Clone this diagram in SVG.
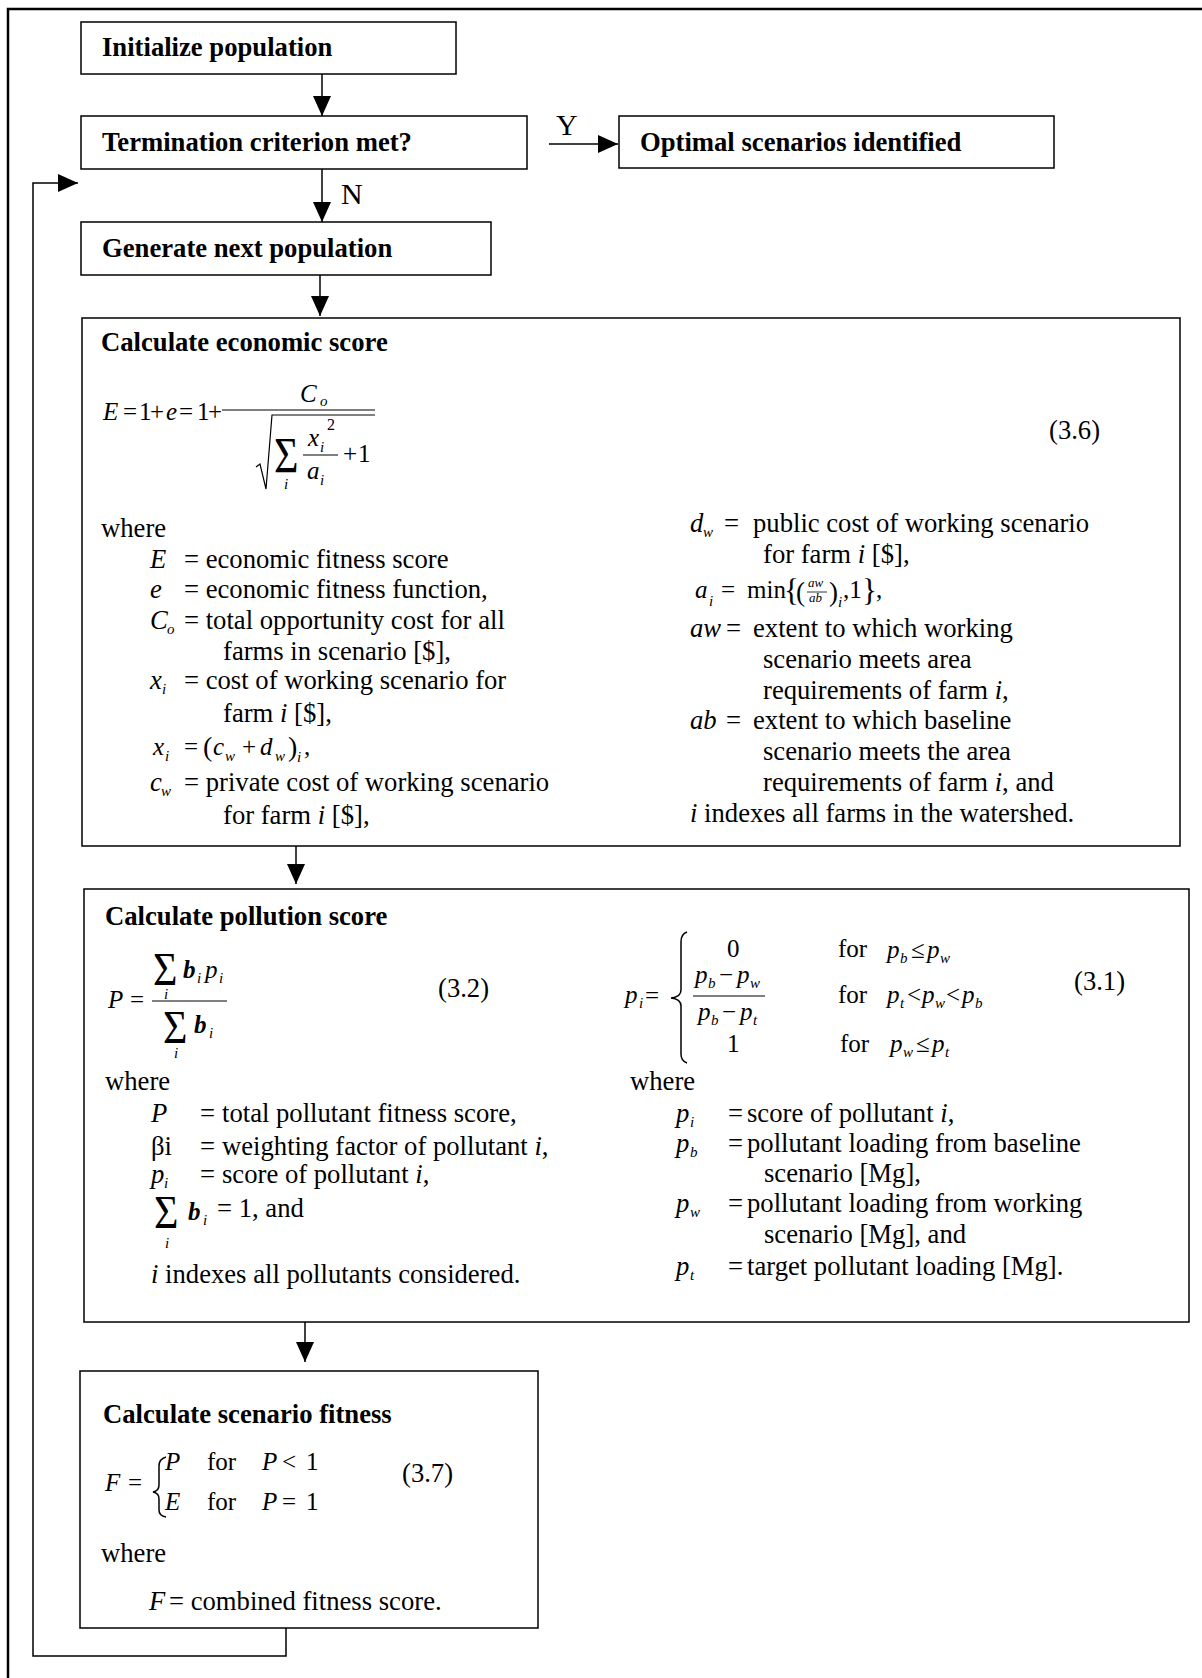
<svg xmlns="http://www.w3.org/2000/svg" width="1202" height="1678" viewBox="0 0 1202 1678">
<defs>
<marker id="ah" viewBox="0 0 20 18" refX="20" refY="9" markerWidth="20" markerHeight="18" markerUnits="userSpaceOnUse" orient="auto"><path d="M0,0 L20,9 L0,18 z" fill="#000"/></marker>
</defs>
<style>
text{font-family:"Liberation Serif","Times New Roman",serif;fill:#000}
.t{font-size:26.67px}
.h{font-size:26.67px;font-weight:bold}
.m{font-size:25px}
.i{font-style:italic}
.bi{font-style:italic;font-weight:bold}
.s{font-size:15px;font-style:italic}
.sig{font-size:42px}
.tiny{font-size:13px;font-style:italic}
.yn{font-size:30px}
.box{fill:#fff;stroke:#000;stroke-width:1.5}
.ln{fill:none;stroke:#000;stroke-width:1.5}
.arr{fill:none;stroke:#000;stroke-width:1.5;marker-end:url(#ah)}
.bar{stroke:#000;stroke-width:1.2}
.frame{fill:none;stroke:#000;stroke-width:2.5}
</style>
<rect x="0" y="0" width="1202" height="1678" fill="#fff"/>
<path class="frame" d="M8,1680 L8,9 L1204,9"/>

<g id="connectors">
<line class="arr" x1="322" y1="74" x2="322" y2="116"/>
<line class="arr" x1="549" y1="144" x2="618" y2="144"/>
<line class="arr" x1="322" y1="169" x2="322" y2="222"/>
<line class="arr" x1="320" y1="275" x2="320" y2="316"/>
<line class="arr" x1="296" y1="846" x2="296" y2="884"/>
<line class="arr" x1="305" y1="1322" x2="305" y2="1362"/>
<polyline class="arr" points="286,1628 286,1656 33,1656 33,183 78,183"/>
<text class="yn" x="556" y="135">Y</text>
<text class="yn" x="341" y="204">N</text>
</g>

<g id="initialize">
<rect class="box" x="81" y="22" width="375" height="52"/>
<text class="h" x="102" y="56">Initialize population</text>
</g>

<g id="termination">
<rect class="box" x="81" y="116" width="446" height="53"/>
<text class="h" x="102" y="151">Termination criterion met?</text>
</g>

<g id="optimal">
<rect class="box" x="619" y="116" width="435" height="52"/>
<text class="h" x="640" y="151">Optimal scenarios identified</text>
</g>

<g id="generate">
<rect class="box" x="81" y="222" width="410" height="53"/>
<text class="h" x="102" y="257">Generate next population</text>
</g>

<g id="economic">
<rect class="box" x="82" y="318" width="1098" height="528"/>
<text class="h" x="101" y="351">Calculate economic score</text>
<text class="m i" x="103" y="420">E</text>
<text class="m" x="123" y="420">=</text>
<text class="m" x="139" y="420">1</text>
<text class="m" x="150" y="420">+</text>
<text class="m i" x="166" y="420">e</text>
<text class="m" x="179" y="420">=</text>
<text class="m" x="197" y="420">1</text>
<text class="m" x="208" y="420">+</text>
<line class="bar" x1="222" y1="410" x2="375" y2="410"/>
<text class="m i" x="300" y="402">C</text>
<text class="s" x="320" y="406">o</text>
<polyline class="ln" style="stroke-width:1.2" points="256,467 260,464 266,489 272,415 375,415"/>
<text class="sig" transform="translate(274,472) scale(1,1.2)">Σ</text>
<text class="s" x="284" y="489">i</text>
<text class="m i" x="308" y="446">x</text>
<text class="s" x="320" y="452">i</text>
<text style="font-size:16px" x="327" y="430">2</text>
<line class="bar" x1="303" y1="455" x2="338" y2="455"/>
<text class="m i" x="307" y="479">a</text>
<text class="s" x="320" y="485">i</text>
<text class="m" x="343" y="462">+</text>
<text class="m" x="358" y="462">1</text>
<text class="t" x="1049" y="439">(3.6)</text>

<text class="t" x="101" y="537">where</text>
<text class="t i" x="150" y="568">E</text><text class="t" x="184" y="568">= economic fitness score</text>
<text class="t i" x="150" y="598">e</text><text class="t" x="184" y="598">= economic fitness function,</text>
<text class="t i" x="150" y="629">C</text><text class="s" x="167" y="634">o</text><text class="t" x="184" y="629">= total opportunity cost for all</text>
<text class="t" x="223" y="660">farms in scenario [$],</text>
<text class="t i" x="150" y="689">x</text><text class="s" x="162" y="694">i</text><text class="t" x="184" y="689">= cost of working scenario for</text>
<text class="t" x="223" y="722">farm <tspan class="i">i</tspan> [$],</text>
<text class="m i" x="153" y="755">x</text><text class="s" x="165" y="761">i</text>
<text class="m" x="184" y="755">=</text>
<text style="font-size:28px" x="203" y="756">(</text>
<text class="m i" x="213" y="755">c</text><text class="s" x="225" y="761">w</text>
<text class="m" x="242" y="755">+</text>
<text class="m i" x="260" y="755">d</text><text class="s" x="275" y="761">w</text>
<text style="font-size:28px" x="288" y="756">)</text><text class="s" x="297" y="762">i</text><text class="m" x="304" y="755">,</text>
<text class="t i" x="150" y="791">c</text><text class="s" x="161" y="796">w</text><text class="t" x="184" y="791">= private cost of working scenario</text>
<text class="t" x="223" y="824">for farm <tspan class="i">i</tspan> [$],</text>

<text class="t i" x="690" y="532">d</text><text class="s" x="703" y="537">w</text><text class="t" x="724" y="532">=</text><text class="t" x="753" y="532">public cost of working scenario</text>
<text class="t" x="763" y="563">for farm <tspan class="i">i</tspan> [$],</text>
<text class="m i" x="695" y="598">a</text><text class="s" x="709" y="606">i</text>
<text class="m" x="721" y="598">=</text>
<text class="m" x="747" y="598">min</text>
<text style="font-size:31px" x="784" y="601">{</text>
<text style="font-size:27px" x="796" y="601">(</text>
<text class="tiny" x="808" y="587">aw</text>
<line class="bar" style="stroke-width:0.8" x1="807" y1="592" x2="827" y2="592"/>
<text class="tiny" x="809" y="602">ab</text>
<text style="font-size:27px" x="829" y="601">)</text>
<text class="s" x="838" y="607">i</text>
<text class="m" x="843" y="598">,1</text>
<text style="font-size:31px" x="862" y="601">}</text>
<text class="m" x="876" y="598">,</text>
<text class="t i" x="690" y="637">aw</text><text class="t" x="726" y="637">=</text><text class="t" x="753" y="637">extent to which working</text>
<text class="t" x="763" y="668">scenario meets area</text>
<text class="t" x="763" y="699">requirements of farm <tspan class="i">i</tspan>,</text>
<text class="t i" x="690" y="729">ab</text><text class="t" x="726" y="729">=</text><text class="t" x="753" y="729">extent to which baseline</text>
<text class="t" x="763" y="760">scenario meets the area</text>
<text class="t" x="763" y="791">requirements of farm <tspan class="i">i</tspan>, and</text>
<text class="t" x="690" y="822"><tspan class="i">i</tspan> indexes all farms in the watershed.</text>
</g>

<g id="pollution">
<rect class="box" x="84" y="889" width="1105" height="433"/>
<text class="h" x="105" y="925">Calculate pollution score</text>
<text class="m i" x="108" y="1008">P</text>
<text class="m" x="130" y="1008">=</text>
<line class="bar" x1="152" y1="1001" x2="227" y2="1001"/>
<text class="sig" transform="translate(153,985) scale(1,1.1)">Σ</text>
<text class="s" x="164" y="999">i</text>
<text class="m bi" x="183" y="978">b</text><text class="s" x="197" y="983">i</text>
<text class="m i" x="205" y="978">p</text><text class="s" x="219" y="983">i</text>
<text class="sig" transform="translate(163,1043) scale(1,1.1)">Σ</text>
<text class="s" x="174" y="1058">i</text>
<text class="m bi" x="194" y="1033">b</text><text class="s" x="209" y="1038">i</text>
<text class="t" x="438" y="997">(3.2)</text>

<text class="t" x="105" y="1090">where</text>
<text class="t i" x="151" y="1122">P</text><text class="t" x="200" y="1122">=</text><text class="t" x="222" y="1122">total pollutant fitness score,</text>
<text class="t" x="151" y="1155">βi</text><text class="t" x="200" y="1155">=</text><text class="t" x="222" y="1155">weighting factor of pollutant <tspan class="i">i</tspan>,</text>
<text class="t i" x="151" y="1183">p</text><text class="s" x="164" y="1188">i</text><text class="t" x="200" y="1183">=</text><text class="t" x="222" y="1183">score of pollutant <tspan class="i">i</tspan>,</text>
<text class="sig" transform="translate(154,1228) scale(1,1.1)">Σ</text>
<text class="s" x="165" y="1248">i</text>
<text class="m bi" x="188" y="1220">b</text><text class="s" x="203" y="1225">i</text>
<text class="t" x="217" y="1217">= 1, and</text>
<text class="t" x="151" y="1283"><tspan class="i">i</tspan> indexes all pollutants considered.</text>

<text class="m i" x="625" y="1003">p</text><text class="s" x="639" y="1008">i</text>
<text class="m" x="645" y="1004">=</text>
<path class="ln" d="M687,932 Q681,934 681,942 L681,990 Q681,997 671,998 Q681,999 681,1006 L681,1054 Q681,1061 687,1063"/>
<text class="m" x="727" y="957">0</text>
<text class="m" x="838" y="957">for</text>
<text class="m i" x="887" y="958">p</text><text class="s" x="900" y="963">b</text>
<text class="m" x="911" y="958">≤</text>
<text class="m i" x="927" y="958">p</text><text class="s" x="940" y="963">w</text>
<text class="m i" x="695" y="983">p</text><text class="s" x="708" y="988">b</text>
<text class="m" x="719" y="983">−</text>
<text class="m i" x="737" y="983">p</text><text class="s" x="750" y="988">w</text>
<line class="bar" x1="693" y1="996" x2="765" y2="996"/>
<text class="m i" x="698" y="1020">p</text><text class="s" x="711" y="1025">b</text>
<text class="m" x="722" y="1020">−</text>
<text class="m i" x="740" y="1020">p</text><text class="s" x="753" y="1025">t</text>
<text class="m" x="838" y="1003">for</text>
<text class="m i" x="887" y="1003">p</text><text class="s" x="900" y="1008">t</text>
<text class="m" x="907" y="1003">&lt;</text>
<text class="m i" x="922" y="1003">p</text><text class="s" x="935" y="1008">w</text>
<text class="m" x="946" y="1003">&lt;</text>
<text class="m i" x="962" y="1003">p</text><text class="s" x="975" y="1008">b</text>
<text class="m" x="727" y="1052">1</text>
<text class="m" x="840" y="1052">for</text>
<text class="m i" x="890" y="1052">p</text><text class="s" x="903" y="1057">w</text>
<text class="m" x="916" y="1052">≤</text>
<text class="m i" x="932" y="1052">p</text><text class="s" x="945" y="1057">t</text>
<text class="t" x="1074" y="990">(3.1)</text>

<text class="t" x="630" y="1090">where</text>
<text class="t i" x="676" y="1122">p</text><text class="s" x="690" y="1127">i</text><text class="t" x="728" y="1122">=</text><text class="t" x="747" y="1122">score of pollutant <tspan class="i">i</tspan>,</text>
<text class="t i" x="676" y="1152">p</text><text class="s" x="690" y="1157">b</text><text class="t" x="728" y="1152">=</text><text class="t" x="747" y="1152">pollutant loading from baseline</text>
<text class="t" x="764" y="1182">scenario [Mg],</text>
<text class="t i" x="676" y="1212">p</text><text class="s" x="690" y="1217">w</text><text class="t" x="728" y="1212">=</text><text class="t" x="747" y="1212">pollutant loading from working</text>
<text class="t" x="764" y="1243">scenario [Mg], and</text>
<text class="t i" x="676" y="1275">p</text><text class="s" x="690" y="1280">t</text><text class="t" x="728" y="1275">=</text><text class="t" x="747" y="1275">target pollutant loading [Mg].</text>
</g>

<g id="fitness">
<rect class="box" x="80" y="1371" width="458" height="257"/>
<text class="h" x="103" y="1423">Calculate scenario fitness</text>
<text class="m i" x="105" y="1491">F</text>
<text class="m" x="128" y="1491">=</text>
<path class="ln" d="M166,1457 Q159,1459 159,1466 L159,1485 Q159,1491 153,1492 Q159,1493 159,1499 L159,1510 Q159,1516 166,1517"/>
<text class="m i" x="165" y="1470">P</text>
<text class="m" x="207" y="1470">for</text>
<text class="m i" x="262" y="1470">P</text>
<text class="m" x="282" y="1470">&lt;</text>
<text class="m" x="306" y="1470">1</text>
<text class="m i" x="165" y="1510">E</text>
<text class="m" x="207" y="1510">for</text>
<text class="m i" x="262" y="1510">P</text>
<text class="m" x="282" y="1510">=</text>
<text class="m" x="306" y="1510">1</text>
<text class="t" x="402" y="1482">(3.7)</text>
<text class="t" x="101" y="1562">where</text>
<text class="t i" x="149" y="1610">F</text><text class="t" x="169" y="1610">= combined fitness score.</text>
</g>
</svg>
